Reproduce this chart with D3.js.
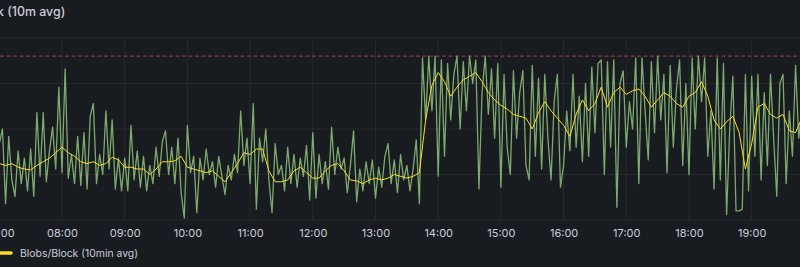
<!DOCTYPE html>
<html>
<head>
<meta charset="utf-8">
<script src="https://cdn.jsdelivr.net/npm/d3@7"></script>
<style>
body { margin: 0; background: #181b1f; overflow: hidden; }
svg { display: block; font-family: Inter, 'Open Sans', sans-serif; }
</style>
</head>
<body>
<div id="chart"></div>
<script>

// blobs per block, one value every 3 minutes from 07:00
const blobsRaw = [
	4.2,5.0,0.9,4.6,2.2,1.3,3.8,2.0,3.4,1.6,3.9,1.3,5.9,2.4,5.9,2.1,3.8,5.1,2.8,7.3,
	2.6,8.3,2.3,3.6,2.0,4.6,1.9,4.8,1.7,5.7,6.4,2.0,3.6,2.5,6.0,2.8,5.5,1.7,3.4,1.6,
	3.4,1.6,5.2,2.2,3.8,1.8,3.5,1.6,3.0,2.0,4.0,2.4,4.3,4.9,2.5,4.0,2.0,4.5,1.5,0.1,
	5.2,2.6,3.5,0.4,3.4,2.2,3.9,2.5,3.2,1.8,3.5,2.4,1.4,3.0,2.2,3.6,2.6,6.0,3.0,4.5,
	2.0,6.4,0.6,4.5,3.2,5.0,2.2,0.4,4.2,2.5,3.0,1.6,4.0,2.0,3.6,1.8,3.4,2.4,4.1,1.1,
	4.8,1.2,3.6,2.0,3.2,1.7,5.1,2.5,4.0,2.8,3.4,1.5,3.0,4.9,1.0,2.8,1.6,3.2,2.0,3.3,
	1.2,2.9,1.8,3.5,4.2,2.0,3.3,1.5,3.6,2.2,3.0,1.6,2.8,4.4,0.9,8.9,5.5,9.0,6.0,9.0,
	2.4,8.8,3.5,8.6,5.5,8.0,9.0,5.0,8.7,6.0,9.0,7.5,8.8,1.7,7.0,9.0,5.8,8.3,4.5,8.6,
	1.8,8.0,4.0,2.5,8.2,4.5,7.0,8.2,3.0,2.2,8.5,3.5,7.8,2.8,8.0,4.5,2.2,6.5,8.0,1.8,
	3.0,6.0,3.8,8.0,4.0,6.8,3.2,7.5,3.5,8.4,4.8,8.6,8.8,2.5,8.7,4.0,8.8,0.7,7.5,8.2,
	4.0,6.5,5.0,8.9,2.0,8.9,6.0,3.3,8.7,4.8,9.0,5.5,8.0,2.6,8.5,4.0,7.2,8.8,3.0,7.5,
	2.5,8.9,5.0,9.0,6.5,8.9,3.5,6.0,1.7,8.9,2.2,8.6,0.3,5.0,7.9,0.5,0.5,0.6,8.0,1.6,
	7.9,3.5,8.0,2.2,7.0,3.0,8.0,4.5,1.3,7.5,8.0,2.0,6.0,3.5,8.5,4.5,6.0
];

// 10 min average, one value every 6 minutes from 07:00
const blobsAvg = [
	3.1,3.0,3.1,2.9,2.8,2.75,3.0,3.2,3.4,3.7,
	4.0,3.7,3.5,3.2,3.1,3.2,3.0,3.1,3.45,3.3,
	2.9,2.9,2.8,2.8,2.5,2.8,3.2,3.2,3.25,3.5,
	2.9,2.8,2.7,2.6,2.7,2.4,2.1,2.6,3.1,3.7,
	3.6,3.9,3.9,2.7,2.1,2.1,2.2,2.7,2.9,2.6,
	2.3,2.3,2.7,3.0,3.1,2.7,2.2,2.15,2.0,2.2,
	2.3,2.2,2.3,2.5,2.4,2.3,2.4,2.6,5.5,7.4,
	8.1,7.6,6.8,7.3,7.7,7.9,8.1,7.6,7.0,6.6,
	6.3,6.1,5.8,5.7,5.6,5.0,5.9,6.5,6.0,5.6,
	5.2,4.6,5.8,6.6,6.0,6.4,7.3,6.2,7.0,7.3,
	6.9,7.1,7.2,6.8,6.2,6.6,7.0,6.8,6.4,6.2,
	6.8,7.0,7.6,6.8,5.5,5.0,5.4,5.7,4.8,2.8,
	4.2,6.2,6.4,5.8,5.6,5.8,4.9,4.8,5.6
];

const tickHours = [7,8,9,10,11,12,13,14,15,16,17,18,19];
const yGridValues = [0, 2.5, 5, 7.5, 10];
const thresholds = [9];
const legendLabels = ['Blobs/Block (10min avg)'];

const rawStepMin = 3;
const avgStepMin = 6;
const day = [2025, 4, 7];

const width = 800;
const height = 267;

const startTime = new Date(...day, 7, 0);
const timeAt = (i, step) => new Date(startTime.getTime() + i * step * 60000);

const x = d3.scaleTime()
.domain([new Date(...day, 7, 0, 40), new Date(...day, 19, 46, 14)])
.range([0, width]);

const y = d3.scaleLinear()
.domain([0, 10])
.range([220, 38]);

const svg = d3.select('#chart')
.append('svg')
.attr('width', width)
.attr('height', height);

svg.append('rect')
.attr('width', width)
.attr('height', height)
.attr('fill', '#181b1f');

// title, cut off on the left like the screenshot
svg.append('text')
.attr('x', -3)
.attr('y', 16)
.attr('fill', '#ccccdc')
.attr('font-size', '12.4px')
.attr('font-weight', 500)
.text('k (10m avg)');

const tickDates = tickHours.map(h => new Date(...day, h, 0));

// grid
svg.append('g')
.selectAll('line')
.data(yGridValues)
.enter()
.append('line')
.attr('x1', 0)
.attr('x2', width)
.attr('y1', d => y(d))
.attr('y2', d => y(d))
.attr('stroke', 'rgba(204,204,220,0.08)')
.attr('stroke-width', 1);

svg.append('g')
.selectAll('line')
.data(tickDates)
.enter()
.append('line')
.attr('x1', d => x(d))
.attr('x2', d => x(d))
.attr('y1', y(10))
.attr('y2', y(0))
.attr('stroke', 'rgba(204,204,220,0.08)')
.attr('stroke-width', 1);

// threshold
svg.append('g')
.selectAll('line')
.data(thresholds)
.enter()
.append('line')
.attr('x1', 0)
.attr('x2', width)
.attr('y1', d => y(d))
.attr('y2', d => y(d))
.attr('stroke', '#843a46')
.attr('stroke-width', 1.3)
.attr('stroke-dasharray', '4,2.5');

const rawLine = d3.line()
.x((d, i) => x(timeAt(i, rawStepMin)))
.y(d => y(d));

const avgLine = d3.line()
.x((d, i) => x(timeAt(i, avgStepMin)))
.y(d => y(d));

svg.append('path')
.datum(blobsRaw)
.attr('d', rawLine)
.attr('fill', 'none')
.attr('stroke', '#8fc27c')
.attr('stroke-opacity', 0.85)
.attr('stroke-width', 1.3)
.attr('stroke-linejoin', 'round');

svg.append('path')
.datum(blobsAvg)
.attr('d', avgLine)
.attr('fill', 'none')
.attr('stroke', '#fade2a')
.attr('stroke-width', 1)
.attr('stroke-linejoin', 'round');

// x axis
const xAxis = svg.append('g')
.attr('transform', 'translate(0,' + y(0) + ')')
.call(d3.axisBottom(x)
	.tickValues(tickDates)
	.tickFormat(d3.timeFormat('%H:%M'))
	.tickSize(0)
	.tickPadding(9));

xAxis.select('.domain').remove();
xAxis.selectAll('text')
.attr('fill', '#ccccdc')
.style('font-size', '11px')
.style('font-family', 'Inter, sans-serif');

// legend
const legend = svg.append('g')
.selectAll('g')
.data(legendLabels)
.enter()
.append('g');

legend.append('line')
.attr('x1', 1)
.attr('x2', 11)
.attr('y1', 253)
.attr('y2', 253)
.attr('stroke', '#fade2a')
.attr('stroke-width', 3.5)
.attr('stroke-linecap', 'round');

legend.append('text')
.attr('x', 20)
.attr('y', 253)
.attr('dy', '0.35em')
.attr('fill', '#ccccdc')
.attr('font-size', '10.4px')
.text(d => d);

</script>
</body>
</html>
